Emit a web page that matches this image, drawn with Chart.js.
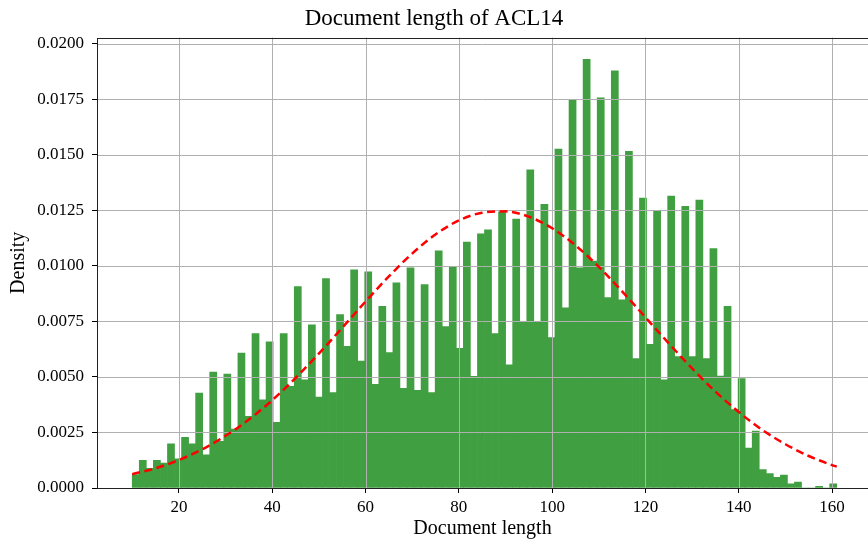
<!DOCTYPE html>
<html>
<head>
<meta charset="utf-8">
<title>Document length of ACL14</title>
<script src="https://cdn.jsdelivr.net/npm/chart.js@4.4.0/dist/chart.umd.min.js"></script>
<style>
  html, body { margin: 0; padding: 0; background: #fff; }
</style>
</head>
<body>
<canvas id="docLengthHist" width="868" height="541"></canvas>
<script>
// histogram: 100 equal bins between the shortest and longest document
var binLeft = 10;
var binRight = 161;
var density = [
  0.00060, 0.00124, 0.00088, 0.00124, 0.00112, 0.00199, 0.00131, 0.00228, 0.00199, 0.00427,
  0.00149, 0.00522, 0.00210, 0.00513, 0.00265, 0.00607, 0.00323, 0.00695, 0.00397, 0.00658,
  0.00295, 0.00695, 0.00457, 0.00906, 0.00487, 0.00734, 0.00409, 0.00943, 0.00429, 0.00780,
  0.00638, 0.00982, 0.00571, 0.00973, 0.00466, 0.00818, 0.00610, 0.00923, 0.00448, 0.00991,
  0.00439, 0.00915, 0.00429, 0.01067, 0.00726, 0.00997, 0.00629, 0.01107, 0.00503, 0.01144,
  0.01162, 0.00695, 0.01243, 0.00554, 0.01210, 0.00750, 0.01432, 0.00750, 0.01277, 0.00677,
  0.01525, 0.00811, 0.01747, 0.00991, 0.01929, 0.01021, 0.01756, 0.00857, 0.01878, 0.00847,
  0.01515, 0.00582, 0.01305, 0.00647, 0.01249, 0.00487, 0.01314, 0.00591, 0.01268, 0.00591,
  0.01296, 0.00582, 0.01077, 0.00504, 0.00818, 0.00353, 0.00493, 0.00180, 0.00256, 0.00083,
  0.00065, 0.00048, 0.00058, 0.00019, 0.00027, 0, 0, 0.00007, 0, 0.00019
];

// red dashed fitted curve
var curveX = [10, 15, 20, 25, 30, 35, 40, 45, 50, 55, 60, 65, 70, 75, 80, 85, 90,
              95, 100, 105, 110, 115, 120, 125, 130, 135, 140, 145, 150, 155, 160, 161];
var curveY = [0.00062, 0.00089, 0.00126, 0.00174, 0.00235, 0.00308, 0.00395, 0.00495,
              0.00605, 0.00721, 0.00839, 0.00952, 0.01055, 0.01141, 0.01204, 0.01239,
              0.01245, 0.01221, 0.01169, 0.01092, 0.00995, 0.00885, 0.00768, 0.00651,
              0.00538, 0.00434, 0.00342, 0.00262, 0.00197, 0.00144, 0.00103, 0.00096];

var xTicks = [20, 40, 60, 80, 100, 120, 140, 160];
var yTicks = [0, 0.0025, 0.005, 0.0075, 0.01, 0.0125, 0.015, 0.0175, 0.02];

var binWidth = (binRight - binLeft) / density.length;
var barPoints = density.map(function(v, i) {
  return {x: binLeft + (i + 0.5) * binWidth, y: v};
});
var curvePoints = curveX.map(function(x, i) {
  return {x: x, y: curveY[i]};
});

Chart.defaults.font.family = "'Liberation Serif', 'Times New Roman', serif";
Chart.defaults.color = '#000';

// matplotlib draws the grid over the bars but under the curve
var gridAndFrame = {
  id: 'gridAndFrame',
  afterDatasetDraw: function(chart, args) {
    if (args.index !== 0) return;
    var ctx = chart.ctx, area = chart.chartArea;
    var xs = chart.scales.x, ys = chart.scales.y;
    ctx.save();
    ctx.strokeStyle = '#b0b0b0';
    ctx.lineWidth = 1;
    ctx.beginPath();
    xs.ticks.forEach(function(t) {
      var px = Math.round(xs.getPixelForValue(t.value)) + 0.5;
      ctx.moveTo(px, area.top);
      ctx.lineTo(px, area.bottom);
    });
    ys.ticks.forEach(function(t) {
      var py = Math.round(ys.getPixelForValue(t.value)) + 0.5;
      ctx.moveTo(area.left, py);
      ctx.lineTo(area.right, py);
    });
    ctx.stroke();
    ctx.restore();
  },
  afterDraw: function(chart) {
    var ctx = chart.ctx, a = chart.chartArea;
    ctx.save();
    ctx.strokeStyle = '#222';
    ctx.lineWidth = 1;
    ctx.strokeRect(Math.round(a.left) + 0.5, Math.round(a.top) + 0.5,
                   a.right - a.left + 10, Math.round(a.bottom - a.top));
    ctx.restore();
  }
};

new Chart(document.getElementById('docLengthHist'), {
  type: 'bar',
  data: {
    datasets: [{
      type: 'bar',
      data: barPoints,
      backgroundColor: '#409f40',
      borderWidth: 0,
      barPercentage: 1,
      categoryPercentage: 1,
      order: 2
    }, {
      type: 'line',
      data: curvePoints,
      borderColor: '#ff0000',
      borderWidth: 2.5,
      borderDash: [8, 4.5],
      pointRadius: 0,
      fill: false,
      cubicInterpolationMode: 'monotone',
      order: 1
    }]
  },
  options: {
    responsive: false,
    animation: false,
    devicePixelRatio: 1,
    layout: {padding: 0},
    plugins: {
      legend: {display: false},
      tooltip: {enabled: false},
      title: {
        display: true,
        text: 'Document length of ACL14',
        font: {size: 23, weight: 'normal'},
        color: '#000',
        padding: {top: 5, bottom: 5}
      }
    },
    scales: {
      x: {
        type: 'linear',
        offset: false,
        min: 2.45,
        max: 167.7,
        afterBuildTicks: function(s) {
          s.ticks = xTicks.map(function(v) { return {value: v}; });
        },
        afterFit: function(s) { s.height = 53; },
        grid: {offset: false, drawOnChartArea: false, drawTicks: true, tickLength: 5, tickColor: '#000'},
        border: {display: false},
        ticks: {
          autoSkip: false, maxRotation: 0, padding: 4,
          font: {size: 17},
          callback: function(v) { return String(v); }
        },
        title: {
          display: true,
          text: 'Document length',
          font: {size: 20},
          padding: {top: 3, bottom: 0}
        }
      },
      y: {
        min: 0,
        max: 0.02027,
        afterBuildTicks: function(s) {
          s.ticks = yTicks.map(function(v) { return {value: v}; });
        },
        afterFit: function(s) { s.width = 97; },
        grid: {offset: false, drawOnChartArea: false, drawTicks: true, tickLength: 5, tickColor: '#000'},
        border: {display: false},
        ticks: {
          padding: 8,
          font: {size: 17},
          callback: function(v) { return v.toFixed(4); }
        },
        title: {
          display: true,
          text: 'Density',
          font: {size: 20},
          padding: {top: 7, bottom: 0}
        }
      }
    }
  },
  plugins: [gridAndFrame]
});
</script>
</body>
</html>
